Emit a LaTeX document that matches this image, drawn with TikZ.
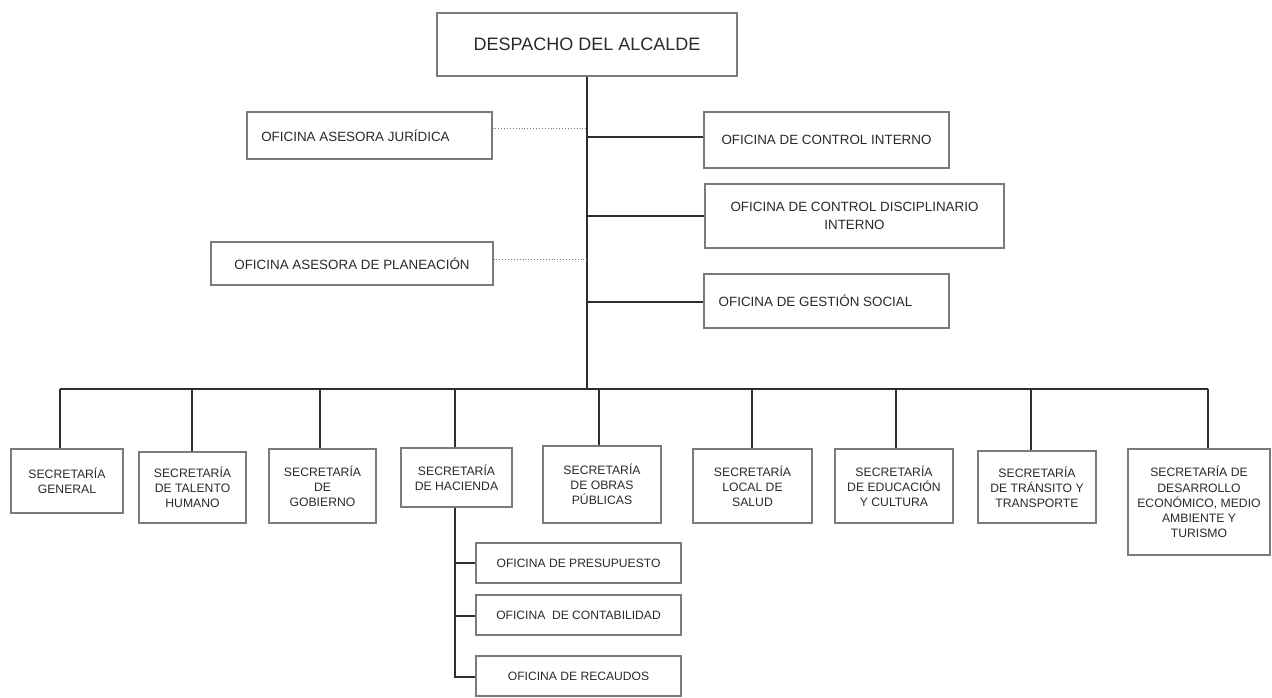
\documentclass[tikz,border=0pt]{standalone}
\usepackage{fontspec}
\setmainfont{Liberation Sans}
\definecolor{boxgray}{HTML}{7A7A7A}
\definecolor{linegray}{HTML}{2E2E2E}
\definecolor{txt}{HTML}{2A2A2A}
\begin{document}
\begin{tikzpicture}[x=1pt,y=-1pt,
  orgbox/.style={draw=boxgray,line width=1.1pt,fill=white,inner sep=0pt,align=center,text=txt},
  office/.style={orgbox,font=\fontsize{13.4}{18}\selectfont},
  secbox/.style={orgbox,font=\fontsize{12.2}{15.2}\selectfont},
  subbox/.style={orgbox,font=\fontsize{12.1}{15}\selectfont},
  conn/.style={draw=linegray,line width=1.1pt},
  dotconn/.style={draw=boxgray,line width=0.9pt,dotted}]
\useasboundingbox (0,0) rectangle (1272,698);
\fill[white] (0,0) rectangle (1272,698);

% top
\node[orgbox,font=\fontsize{18}{22}\selectfont,minimum width=300,minimum height=63] (top) at (587,44.5) {DESPACHO DEL ALCALDE};

% staff offices
\node[office,minimum width=245,minimum height=47] (jur) at (369.5,135.5) {\hspace*{-28pt}OFICINA ASESORA JURÍDICA};
\node[office,minimum width=245,minimum height=56] (ci) at (826.5,140) {OFICINA DE CONTROL INTERNO};
\node[office,minimum width=299,minimum height=64] (cdi) at (854.5,216) {OFICINA DE CONTROL DISCIPLINARIO\\INTERNO};
\node[office,minimum width=282,minimum height=43] (plan) at (352,263.5) {OFICINA ASESORA DE PLANEACIÓN};
\node[office,minimum width=245,minimum height=54] (gs) at (826.5,301) {\hspace*{-22pt}OFICINA DE GESTIÓN SOCIAL};

% trunk coordinates
\coordinate (tbus) at (587,389);
\coordinate (tjur) at (587,128);
\coordinate (tci) at (587,137);
\coordinate (tcdi) at (587,216);
\coordinate (tplan) at (587,259);
\coordinate (tgs) at (587,302);
\draw[conn] (top.south) -- (tbus);
\draw[dotconn] (jur.east |- tjur) -- (tjur);
\draw[dotconn] (plan.east |- tplan) -- (tplan);
\draw[conn] (tci) -- (ci.west |- tci);
\draw[conn] (tcdi) -- (cdi.west |- tcdi);
\draw[conn] (tgs) -- (gs.west |- tgs);

% secretarías
\node[secbox,minimum width=112,minimum height=64] (b1) at (67,481) {SECRETARÍA\\GENERAL};
\node[secbox,minimum width=107,minimum height=71] (b2) at (192.5,487.5) {SECRETARÍA\\DE TALENTO\\HUMANO};
\node[secbox,minimum width=107,minimum height=74] (b3) at (322.5,486) {SECRETARÍA\\DE\\GOBIERNO};
\node[secbox,minimum width=111,minimum height=59] (b4) at (456.5,477.5) {SECRETARÍA\\DE HACIENDA};
\node[secbox,minimum width=118,minimum height=77] (b5) at (602,484.5) {SECRETARÍA\\DE OBRAS\\PÚBLICAS};
\node[secbox,minimum width=119,minimum height=74] (b6) at (752.5,486) {SECRETARÍA\\LOCAL DE\\SALUD};
\node[secbox,minimum width=118,minimum height=74] (b7) at (894,486) {SECRETARÍA\\DE EDUCACIÓN\\Y CULTURA};
\node[secbox,minimum width=118,minimum height=72] (b8) at (1037,487) {SECRETARÍA\\DE TRÁNSITO Y\\TRANSPORTE};
\node[secbox,minimum width=142,minimum height=106] (b9) at (1199,502) {SECRETARÍA DE\\DESARROLLO\\ECONÓMICO, MEDIO\\AMBIENTE Y\\TURISMO};

% bus
\coordinate (d1) at (60,389);
\coordinate (d2) at (192,389);
\coordinate (d3) at (320,389);
\coordinate (d4) at (455,389);
\coordinate (d5) at (599,389);
\coordinate (d6) at (752,389);
\coordinate (d7) at (896,389);
\coordinate (d8) at (1031,389);
\coordinate (d9) at (1208,389);
\draw[conn] (d1) -- (d9);
\foreach \i in {1,...,9} {\draw[conn] (d\i) -- (d\i |- b\i.north);}

% sub offices
\node[subbox,minimum width=205,minimum height=40] (s1) at (578.5,563) {OFICINA DE PRESUPUESTO};
\node[subbox,minimum width=205,minimum height=40] (s2) at (578.5,615) {OFICINA \ DE CONTABILIDAD};
\node[subbox,minimum width=205,minimum height=40] (s3) at (578.5,676) {OFICINA DE RECAUDOS};
\coordinate (h0) at (455,507);
\coordinate (h1) at (455,563);
\coordinate (h2) at (455,616);
\coordinate (h3) at (455,677);
\draw[conn] (h0 |- b4.south) -- (h3) -- (s3.west |- h3);
\draw[conn] (h1) -- (s1.west |- h1);
\draw[conn] (h2) -- (s2.west |- h2);
\end{tikzpicture}
\end{document}
